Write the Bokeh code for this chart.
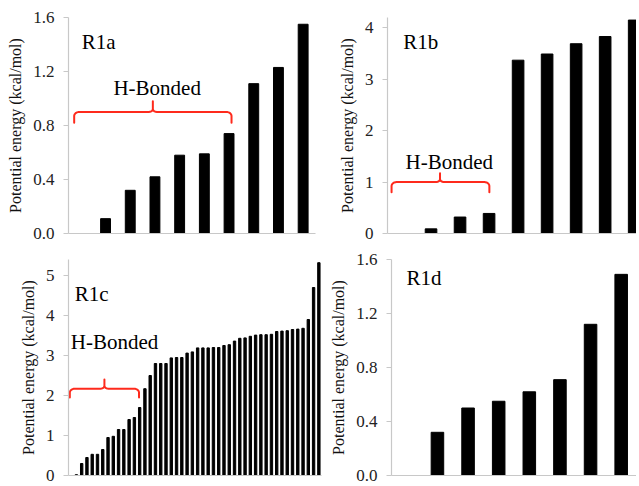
import numpy as np
from bokeh.plotting import figure
from bokeh.layouts import column, row
from bokeh.models import Range1d, FixedTicker, NumeralTickFormatter
from bokeh.core.properties import value
from bokeh.embed import file_html
from bokeh.resources import INLINE

# ---------------- data ----------------
panel_names = ["R1a", "R1b", "R1c", "R1d"]
r1a_values = [0.0, 0.11, 0.32, 0.42, 0.58, 0.59, 0.74, 1.11, 1.23, 1.55]
r1b_values = [0.0, 0.09, 0.32, 0.39, 3.37, 3.49, 3.69, 3.83, 4.15]
r1c_values = [0.0, 0.02, 0.30, 0.45, 0.53, 0.53, 0.65, 0.95, 0.98, 1.15, 1.15,
              1.40, 1.45, 1.70, 2.17, 2.50, 2.80, 2.80, 2.80, 2.94, 2.95, 2.95,
              3.06, 3.09, 3.19, 3.19, 3.19, 3.20, 3.20, 3.25, 3.27, 3.36, 3.43,
              3.44, 3.48, 3.51, 3.52, 3.52, 3.53, 3.60, 3.61, 3.62, 3.65, 3.66,
              3.68, 3.90, 4.70, 5.32]
r1d_values = [0.0, 0.32, 0.50, 0.55, 0.62, 0.71, 1.12, 1.49]

r1a_ticks = [0.0, 0.4, 0.8, 1.2, 1.6]
r1b_ticks = [0, 1, 2, 3, 4]
r1c_ticks = [0, 1, 2, 3, 4, 5]
r1d_ticks = [0.0, 0.4, 0.8, 1.2, 1.6]

y_label = "Potential energy (kcal/mol)"
bracket_label = "H-Bonded"

AXIS_FONT = "Liberation Serif"
FONT = value("Liberation Serif")
AXIS_GREY = "#c8c8c8"
RED = "#fe2a1c"


def make_panel(values, ticks, fmt, ymax, xmax, width, height, left, right,
               top, bottom, bar_width):
    fw = width - left - right
    fh = height - top - bottom
    p = figure(width=width, height=height, output_backend="svg",
               toolbar_location=None, x_range=Range1d(-0.5, xmax),
               y_range=Range1d(0, ymax), min_border_left=left,
               min_border_right=right, min_border_top=top,
               min_border_bottom=bottom)
    p.outline_line_color = None
    p.grid.visible = False
    p.background_fill_color = "white"
    p.border_fill_color = "white"
    xs = list(range(len(values)))
    p.vbar(x=xs, top=values, width=bar_width, color="black")
    p.yaxis.ticker = FixedTicker(ticks=ticks)
    p.yaxis.formatter = NumeralTickFormatter(format=fmt)
    p.yaxis.minor_tick_line_color = None
    p.yaxis.major_tick_out = 5
    p.yaxis.major_tick_in = 0
    p.yaxis.major_tick_line_color = AXIS_GREY
    p.yaxis.axis_line_color = AXIS_GREY
    p.yaxis.axis_line_width = 1.2
    p.yaxis.major_label_text_font = AXIS_FONT
    p.yaxis.major_label_text_font_size = "17px"
    p.yaxis.major_label_text_color = "#222222"
    p.yaxis.major_label_standoff = 9
    p.yaxis.axis_label = y_label
    p.yaxis.axis_label_text_font = AXIS_FONT
    p.yaxis.axis_label_text_font_size = "16px"
    p.yaxis.axis_label_text_font_style = "normal"
    p.yaxis.axis_label_text_color = "#111111"
    p.yaxis.axis_label_standoff = 6
    p.xaxis.ticker = FixedTicker(ticks=[])
    p.xaxis.major_tick_line_color = None
    p.xaxis.minor_tick_line_color = None
    p.xaxis.major_label_text_font_size = "0px"
    p.xaxis.axis_line_color = AXIS_GREY
    p.xaxis.axis_line_width = 1.2
    px_x = fw / (xmax + 0.5)
    px_y = fh / ymax
    return p, px_x, px_y


def add_brace(p, px_x, px_y, x0, x1, y_low, y_mid, y_top, xc=None):
    if xc is None:
        xc = (x0 + x1) / 2.0
    rx = 5.0 / px_x
    ry = 4.0 / px_y
    rxc = 4.0 / px_x
    ryc = 3.0 / px_y
    xs, ys = [x0], [y_low]
    t = np.linspace(np.pi, np.pi / 2, 8)
    xs += list(x0 + rx + rx * np.cos(t)); ys += list(y_mid - ry + ry * np.sin(t))
    t = np.linspace(-np.pi / 2, 0, 6)
    xs += list(xc - rxc + rxc * np.cos(t)); ys += list(y_mid + ryc + ryc * np.sin(t))
    xs += [xc]; ys += [y_top]
    t = np.linspace(np.pi, 3 * np.pi / 2, 6)
    xs += list(xc + rxc + rxc * np.cos(t)); ys += list(y_mid + ryc + ryc * np.sin(t))
    t = np.linspace(np.pi / 2, 0, 8)
    xs += list(x1 - rx + rx * np.cos(t)); ys += list(y_mid - ry + ry * np.sin(t))
    xs += [x1]; ys += [y_low]
    p.line(xs, ys, line_color=RED, line_width=2, line_join="round",
           line_cap="round")


def add_text(p, x, y, txt, align="left"):
    p.text(x=[x], y=[y], text=[txt], text_font=FONT, text_font_size="21px",
           text_align=align, text_baseline="middle", text_color="black")


# R1a
pa, ax, ay = make_panel(r1a_values, r1a_ticks, "0.0", 1.6, 9.5,
                        320, 243, 68, 5, 17, 10, 0.4)
add_text(pa, 0.04, 1.42, panel_names[0])
add_brace(pa, ax, ay, -0.27, 6.10, 0.82, 0.90, 0.98)
add_text(pa, 3.09, 1.08, bracket_label, align="center")

# R1b
pb, bx, by = make_panel(r1b_values, r1b_ticks, "0", 4.2, 8.08,
                        316, 243, 67, 0, 17, 10, 0.4)
add_text(pb, 0.04, 3.73, panel_names[1])
add_brace(pb, bx, by, -0.36, 3.01, 0.80, 1.0, 1.17, xc=1.31)
add_text(pb, 1.63, 1.40, bracket_label, align="center")

# R1c
pc, cx, cy = make_panel(r1c_values, r1c_ticks, "0", 5.4, 47.5,
                        322, 243, 68, 1, 15, 11, 0.45)
add_text(pc, 0.7, 4.55, panel_names[2])
add_brace(pc, cx, cy, -0.25, 12.88, 1.95, 2.17, 2.40)
add_text(pc, -0.06, 3.34, bracket_label)

# R1d
pd_, dx, dy = make_panel(r1d_values, r1d_ticks, "0.0", 1.6, 7.5,
                         314, 243, 69, 0, 16, 11, 0.41)
add_text(pd_, -0.01, 1.46, panel_names[3])

layout = column(row(pa, pb), row(pc, pd_))
open("out.html", "w").write(file_html(layout, INLINE))
